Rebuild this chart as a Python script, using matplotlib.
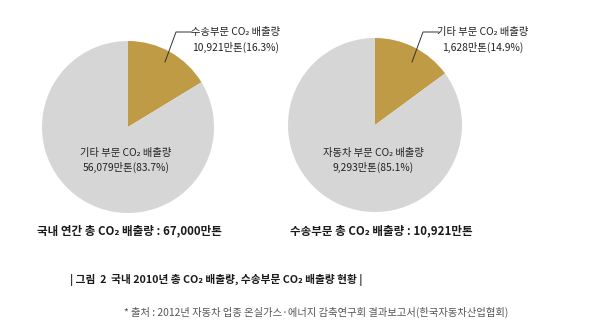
import matplotlib
matplotlib.use("Agg")
import matplotlib.pyplot as plt

plt.rcParams['font.family'] = ['Noto Sans CJK KR', 'DejaVu Sans']

# data
left_labels = ['수송부문 CO₂ 배출량', '기타 부문 CO₂ 배출량']
left_values = [10921, 56079]
left_pct = [16.3, 83.7]
left_total = '국내 연간 총 CO₂ 배출량 : 67,000만톤'

right_labels = ['기타 부문 CO₂ 배출량', '자동차 부문 CO₂ 배출량']
right_values = [1628, 9293]
right_pct = [14.9, 85.1]
right_total = '수송부문 총 CO₂ 배출량 : 10,921만톤'

title = '| 그림  2  국내 2010년 총 CO₂ 배출량, 수송부문 CO₂ 배출량 현황 |'
source = '* 출처 : 2012년 자동차 업종 온실가스·에너지 감축연구회 결과보고서(한국자동차산업협회)'

colors = ['#bf9b45', '#d6d6d6']
W, H = 600, 328

fig = plt.figure(figsize=(6, 3.28), dpi=100)
ax = fig.add_axes([0, 0, 1, 1])
ax.set_xlim(0, W)
ax.set_ylim(0, H)
ax.set_aspect('equal')
ax.axis('off')


def fmt(v, p):
   return '{:,}만톤({}%)'.format(v, p)


def draw_pie(cx, cy, r, labels, values, pct, total, tx):
   ax.pie(values, colors=colors, startangle=90, counterclock=False,
          center=(cx, H - cy), radius=r, frame=True,
          wedgeprops=dict(linewidth=0))
   # leader line for small wedge
   ax.plot([cx + 37, cx + 48, cx + 64], [H - 62, H - 32, H - 32],
           color='#333333', lw=0.7)
   ax.text(cx + 108, H - 32, labels[0], ha='center', va='center',
           fontsize=7.4, color='#222222')
   ax.text(cx + 108, H - 47, fmt(values[0], pct[0]), ha='center', va='center',
           fontsize=7.4, color='#222222')
   ax.text(cx - 2, H - 153, labels[1], ha='center', va='center',
           fontsize=7.4, color='#222222')
   ax.text(cx - 2, H - 167, fmt(values[1], pct[1]), ha='center', va='center',
           fontsize=7.4, color='#222222')
   ax.text(tx, H - 231, total, ha='left', va='center', fontsize=8.3,
           fontweight='bold', color='#1a1a1a')


draw_pie(128, 127, 86, left_labels, left_values, left_pct, left_total, 37)
draw_pie(375, 125, 87, right_labels, right_values, right_pct, right_total, 290)

ax.set_xlim(0, W)
ax.set_ylim(0, H)

ax.text(70, H - 280, title, ha='left', va='center', fontsize=7.7,
        fontweight='bold', color='#1a1a1a')
ax.text(508, H - 312, source, ha='right', va='center', fontsize=7.4,
        color='#555555')

fig.savefig('out.png', dpi=100)
